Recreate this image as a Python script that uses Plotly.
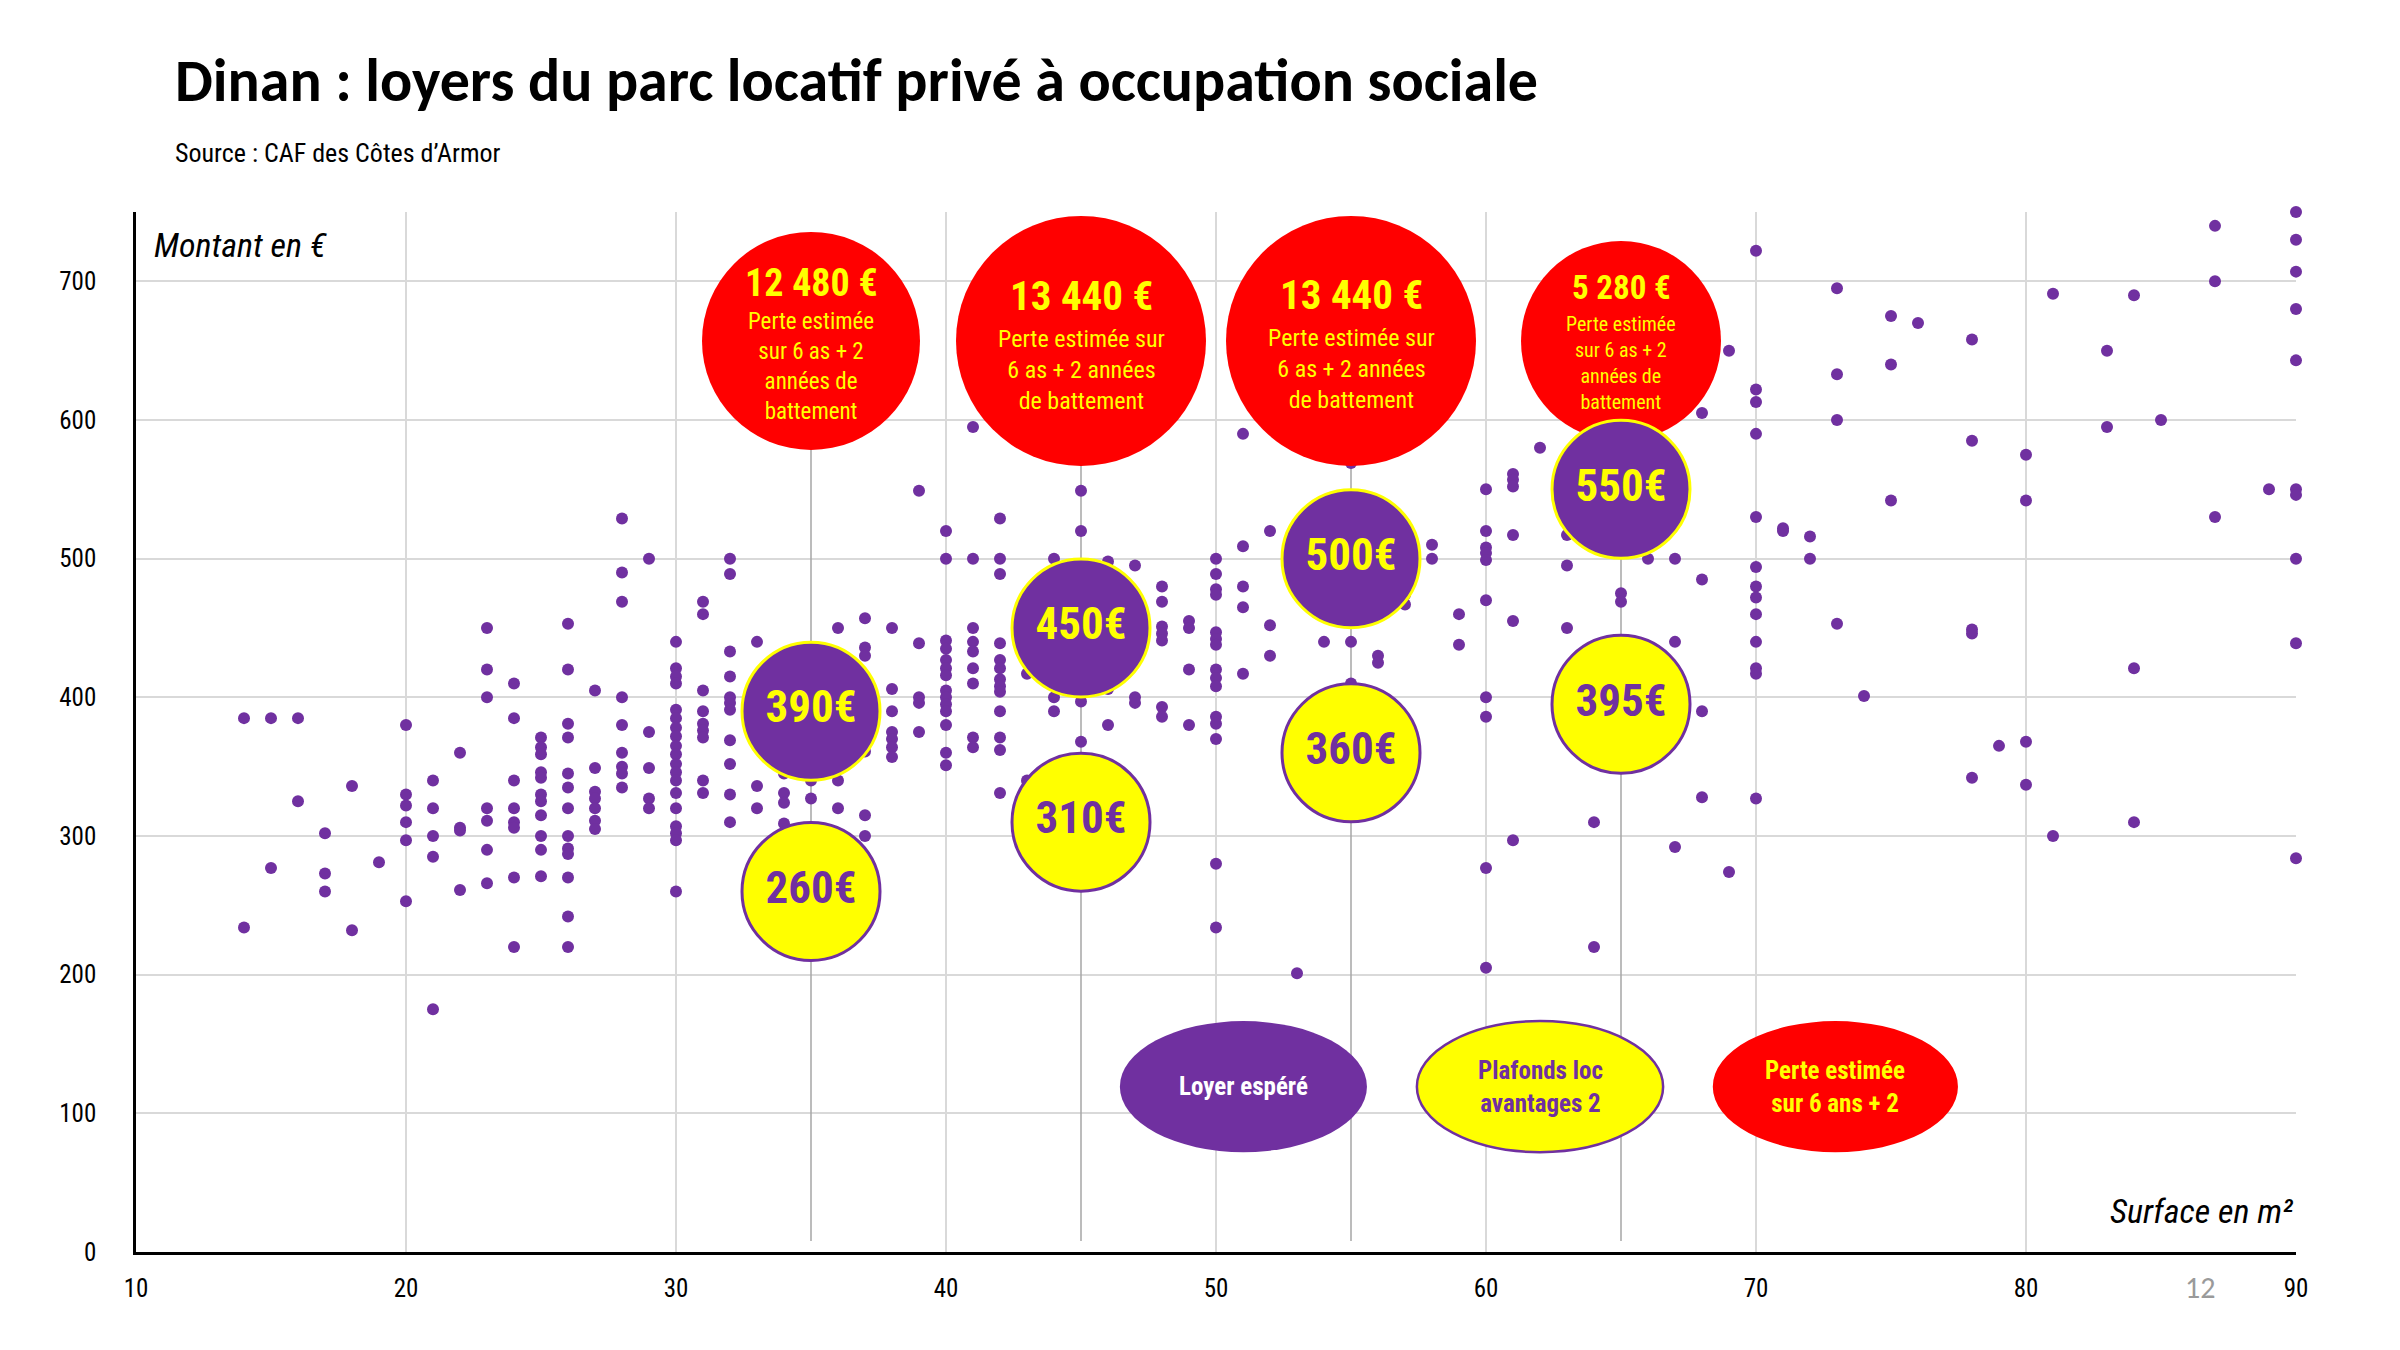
import plotly.graph_objects as go

# ---------------- DATA ----------------
# Surface (m²) columns and rents (€)
surfaces_obs = [14, 15, 16, 17, 18, 19, 20, 21, 22, 23, 24, 25, 26, 27, 28, 29, 30,
                31, 32, 33, 34, 35, 36, 37, 38, 39, 40, 41, 42, 43, 44, 45, 46, 47,
                48, 49, 50, 51, 52, 53, 54, 55, 56, 57, 58, 59, 60, 61, 62, 63, 64,
                65, 66, 67, 68, 69, 70, 71, 72, 73, 74, 75, 76, 78, 79, 80, 81, 83,
                84, 85, 87, 89, 90]
loyers_obs = [
    [385, 234], [385, 277], [385, 325], [302, 273, 260], [336, 232], [281],
    [380, 330, 322, 310, 297, 253],
    [340, 320, 300, 285, 175],
    [360, 306, 304, 261],
    [450, 420, 400, 320, 311, 290, 266],
    [410, 385, 340, 320, 310, 306, 270, 220],
    [371, 364, 359, 346, 342, 330, 325, 315, 300, 290, 271],
    [453, 420, 381, 371, 345, 335, 320, 300, 291, 287, 270, 242, 220],
    [405, 349, 332, 327, 320, 311, 305],
    [529, 490, 469, 400, 380, 360, 350, 345, 335],
    [500, 375, 349, 327, 320],
    [440, 421, 415, 410, 391, 385, 378, 372, 365, 359, 352, 346, 340, 331, 320, 307, 302, 297, 260],
    [469, 460, 405, 390, 381, 376, 371, 340, 331],
    [500, 489, 433, 415, 400, 396, 391, 369, 352, 330, 310],
    [440, 336, 320],
    [345, 331, 324, 309],
    [340, 327],
    [450, 340, 320],
    [457, 436, 430, 361, 315, 300],
    [450, 406, 390, 375, 370, 364, 357],
    [549, 439, 400, 396, 375],
    [520, 500, 441, 435, 427, 421, 416, 405, 400, 395, 390, 380, 360, 351],
    [595, 500, 450, 440, 433, 421, 410, 371, 364],
    [529, 500, 489, 439, 427, 421, 413, 408, 404, 390, 371, 362, 331],
    [417, 340],
    [500, 400, 390],
    [549, 520, 397, 368],
    [498, 406, 380],
    [495, 400, 396],
    [480, 469, 451, 446, 441, 393, 386],
    [455, 450, 420, 380],
    [500, 489, 478, 474, 447, 442, 438, 420, 414, 408, 386, 381, 370, 280, 234],
    [590, 509, 480, 465, 417],
    [520, 452, 430],
    [201],
    [440],
    [569, 455, 440, 410],
    [430, 425],
    [474, 467],
    [510, 500],
    [460, 438],
    [550, 520, 508, 504, 499, 470, 400, 386, 277, 205],
    [561, 557, 552, 517, 455, 297],
    [580],
    [517, 495, 450],
    [310, 220],
    [475, 469],
    [500],
    [500, 440, 292],
    [605, 485, 390, 328],
    [650, 274],
    [722, 622, 613, 590, 530, 494, 480, 472, 460, 440, 421, 417, 327],
    [522, 520],
    [516, 500],
    [695, 633, 600, 453],
    [401],
    [675, 640, 542],
    [670],
    [658, 585, 449, 446, 342],
    [365],
    [575, 542, 368, 337],
    [691, 300],
    [650, 595],
    [690, 421, 310],
    [600],
    [740, 700, 530],
    [550],
    [750, 730, 707, 680, 643, 550, 546, 500, 439, 284],
]

bulle_surface = [35, 45, 55, 65]
loyer_espere = [390, 450, 500, 550]
plafond_loc_avantages = [260, 310, 360, 395]
perte_montant = ["12 480 €", "13 440 €", "13 440 €", "5 280 €"]
perte_libelle = [
    "Perte estimée<br>sur 6 as + 2<br>années de<br>battement",
    "Perte estimée sur<br>6 as + 2 années<br>de battement",
    "Perte estimée sur<br>6 as + 2 années<br>de battement",
    "Perte estimée<br>sur 6 as + 2<br>années de<br>battement",
]

x_ticks = [10, 20, 30, 40, 50, 60, 70, 80, 90]
y_ticks = [0, 100, 200, 300, 400, 500, 600, 700]

# ---------------- STYLE ----------------
PURPLE = "#7030A0"
YELLOW = "#FFFF00"
RED = "#FF0000"
NARROW = "Roboto Condensed, Archivo Narrow, DejaVu Sans Condensed, sans-serif"
TITLE_FONT = "Carlito, Lato, sans-serif"
RED_Y = 657           # vertical position of the red "loss" bubbles
red_sizes = [218, 250, 250, 200]
red_amount_size = [38, 41, 41, 33]
red_label_size = [23, 24, 24, 20]
red_amount_shift = [58, 45, 46, 53]
red_label_shift = [-26, -29, -28, -22]

xs, ys = [], []
for s, lst in zip(surfaces_obs, loyers_obs):
    xs += [s] * len(lst)
    ys += lst

fig = go.Figure()

# connector lines from the axis to the red bubbles
lx, ly = [], []
for s in bulle_surface:
    lx += [s, s, None]
    ly += [8, RED_Y, None]
fig.add_trace(go.Scatter(x=lx, y=ly, mode="lines", line=dict(color="#a6a6a6", width=1.5),
                         hoverinfo="skip", showlegend=False, cliponaxis=False))

# observations
fig.add_trace(go.Scatter(x=xs, y=ys, mode="markers", marker=dict(size=12, color=PURPLE),
                         showlegend=False, cliponaxis=False))

# red loss bubbles
fig.add_trace(go.Scatter(x=bulle_surface, y=[RED_Y] * len(bulle_surface), mode="markers",
                         marker=dict(size=red_sizes, color=RED, line=dict(width=0), opacity=1),
                         showlegend=False, cliponaxis=False, hoverinfo="skip"))

# expected rent (purple)
fig.add_trace(go.Scatter(x=bulle_surface, y=loyer_espere, mode="markers+text",
                         text=[f"{v}€" for v in loyer_espere], textposition="middle center",
                         textfont=dict(family=NARROW, size=45, color=YELLOW, weight="bold"),
                         marker=dict(size=138, color=PURPLE, line=dict(color=YELLOW, width=3), opacity=1),
                         showlegend=False, cliponaxis=False))

# ceilings (yellow)
fig.add_trace(go.Scatter(x=bulle_surface, y=plafond_loc_avantages, mode="markers+text",
                         text=[f"{v}€" for v in plafond_loc_avantages], textposition="middle center",
                         textfont=dict(family=NARROW, size=45, color=PURPLE, weight="bold"),
                         marker=dict(size=138, color=YELLOW, line=dict(color=PURPLE, width=3), opacity=1),
                         showlegend=False, cliponaxis=False))

annotations = []
for i, s in enumerate(bulle_surface):
    annotations.append(dict(x=s, y=RED_Y, xref="x", yref="y", text=f"<b>{perte_montant[i]}</b>",
                            showarrow=False, yshift=red_amount_shift[i],
                            font=dict(family=NARROW, size=red_amount_size[i], color=YELLOW)))
    annotations.append(dict(x=s, y=RED_Y, xref="x", yref="y", text=perte_libelle[i],
                            showarrow=False, yshift=red_label_shift[i],
                            font=dict(family=NARROW, size=red_label_size[i], color=YELLOW)))

# titles / labels
annotations += [
    dict(x=0.017, y=1.126, xref="paper", yref="paper", xanchor="left", yanchor="middle",
         text="<b>Dinan : loyers du parc locatif privé à occupation sociale</b>", showarrow=False,
         font=dict(family=TITLE_FONT, size=60, color="#000000")),
    dict(x=0.017, y=1.0567, xref="paper", yref="paper", xanchor="left", yanchor="middle",
         text="Source : CAF des Côtes d’Armor", showarrow=False,
         font=dict(family=NARROW, size=26, color="#000000")),
    dict(x=0.0075, y=0.968, xref="paper", yref="paper", xanchor="left", yanchor="middle",
         text="<i>Montant en €</i>", showarrow=False,
         font=dict(family=NARROW, size=34, color="#000000")),
    dict(x=1.0, y=0.0394, xref="paper", yref="paper", xanchor="right", yanchor="middle",
         text="<i>Surface en m²</i>", showarrow=False,
         font=dict(family=NARROW, size=34, color="#000000")),
    dict(x=0.9556, y=-0.0337, xref="paper", yref="paper", xanchor="center", yanchor="middle",
         text="12", showarrow=False,
         font=dict(family=TITLE_FONT, size=30, color="#9a9a9a")),
]

# legend ellipses
legend_items = [
    dict(x0=46.44, x1=55.59, fill=PURPLE, line=None, text="<b>Loyer espéré</b>", color="#FFFFFF"),
    dict(x0=57.44, x1=66.56, fill=YELLOW, line=PURPLE, text="<b>Plafonds loc<br>avantages 2</b>", color=PURPLE),
    dict(x0=68.40, x1=77.48, fill=RED, line=None, text="<b>Perte estimée<br>sur 6 ans + 2</b>", color=YELLOW),
]
shapes = []
for it in legend_items:
    shapes.append(dict(type="circle", xref="x", yref="y", x0=it["x0"], x1=it["x1"], y0=72, y1=166.5,
                       fillcolor=it["fill"], layer="above",
                       line=dict(color=it["line"] or it["fill"], width=2.5 if it["line"] else 0)))
    annotations.append(dict(x=(it["x0"] + it["x1"]) / 2, y=119, xref="x", yref="y", text=it["text"],
                            showarrow=False, font=dict(family=NARROW, size=25, color=it["color"])))

fig.update_layout(
    width=2400, height=1350,
    margin=dict(l=136, r=104, t=212, b=98),
    paper_bgcolor="white", plot_bgcolor="white",
    annotations=annotations, shapes=shapes,
    showlegend=False,
    xaxis=dict(range=[10, 90], tickvals=x_ticks, ticktext=[str(v) for v in x_ticks],
               showgrid=True, gridcolor="#d9d9d9", gridwidth=2, zeroline=False,
               showline=True, linecolor="#000000", linewidth=2.5, ticks="",
               ticklabelstandoff=12,
               tickfont=dict(family=NARROW, size=25, color="#000000")),
    yaxis=dict(range=[0, 750], tickvals=y_ticks, ticktext=[str(v) for v in y_ticks],
               showgrid=True, gridcolor="#d9d9d9", gridwidth=2, zeroline=False,
               showline=True, linecolor="#000000", linewidth=2.5, ticks="",
               ticklabelstandoff=32,
               tickfont=dict(family=NARROW, size=25, color="#000000")),
)

fig.write_html("out.html")
